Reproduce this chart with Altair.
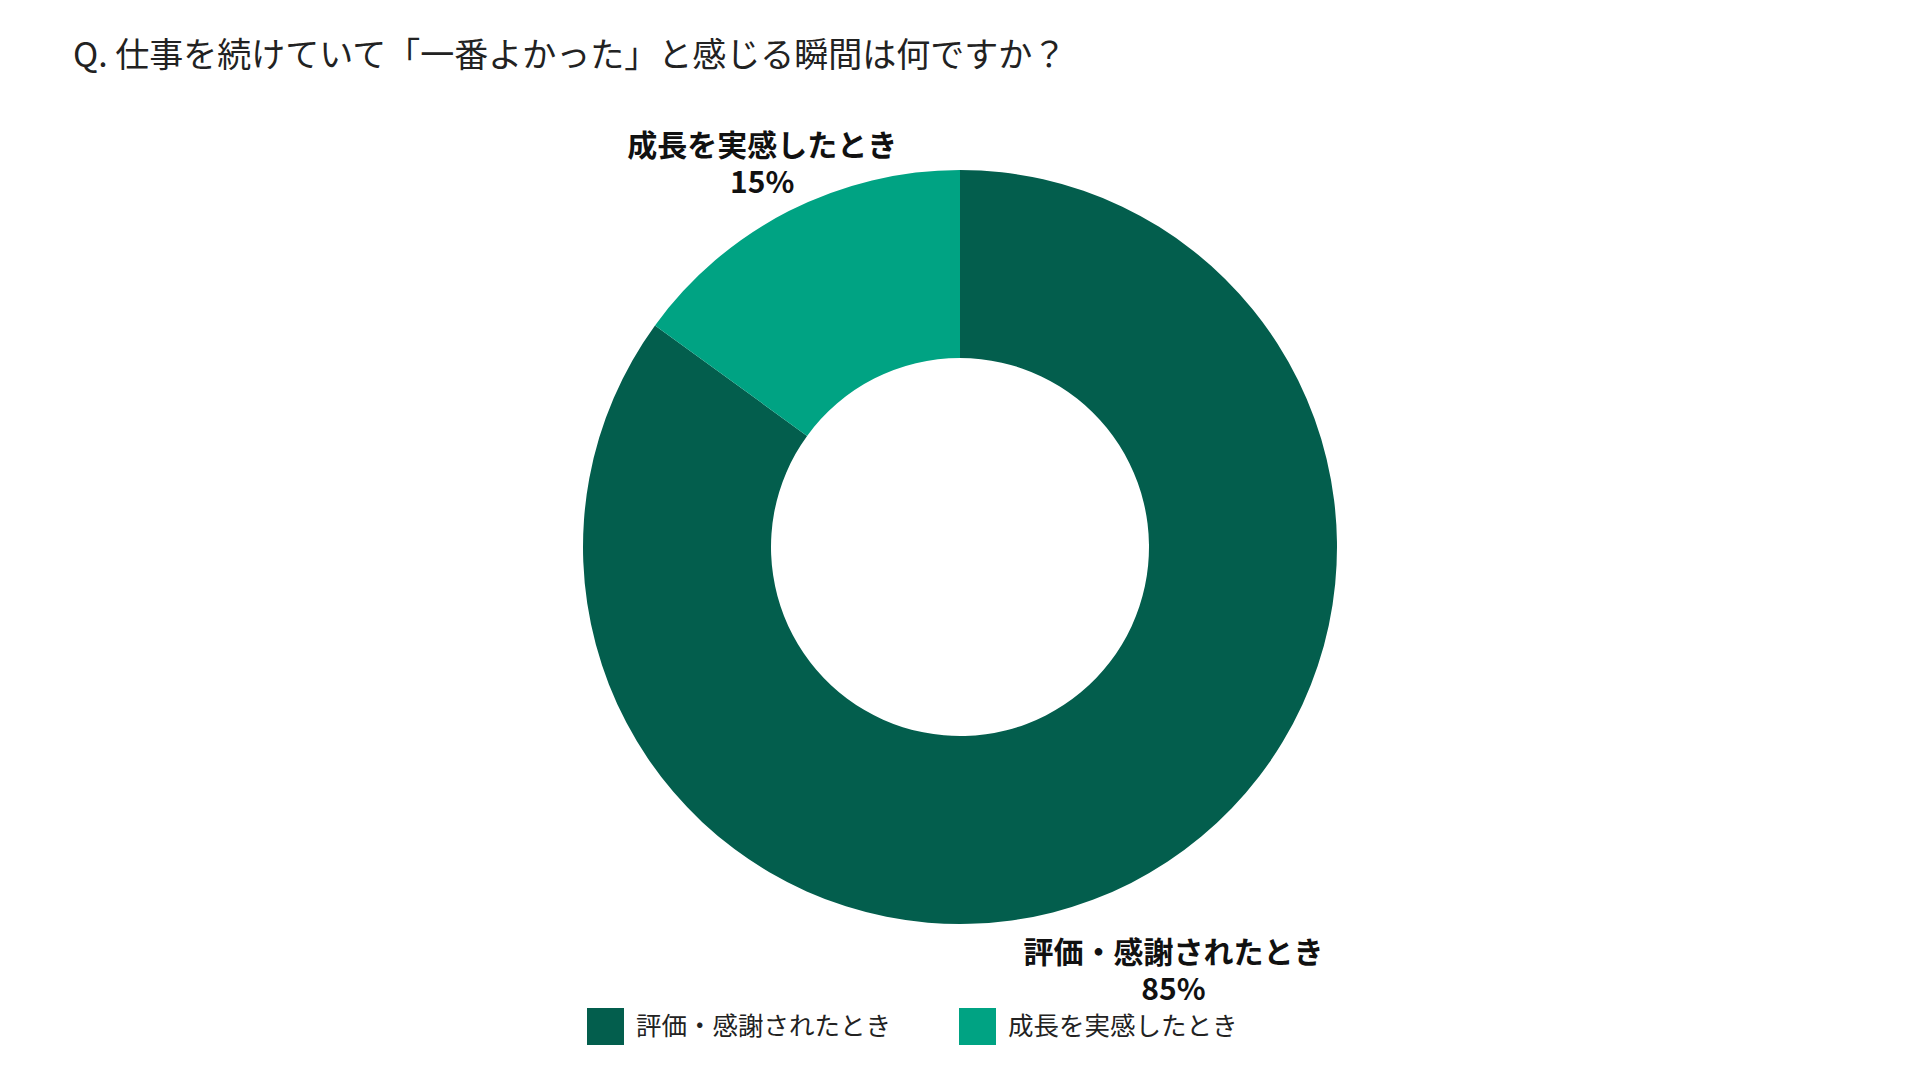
import altair as alt
import pandas as pd

categories = ["評価・感謝されたとき", "成長を実感したとき"]
values = [85, 15]
order_idx = [0, 1]
colors = ["#035E4D", "#00A383"]
title_text = "Q. 仕事を続けていて「一番よかった」と感じる瞬間は何ですか？"

df = pd.DataFrame({"category": categories, "value": values, "idx": order_idx})

FONT = "Noto Sans CJK JP"

arc = alt.Chart(df).mark_arc(innerRadius=189, outerRadius=377).encode(
    theta=alt.Theta("value:Q", stack=True),
    order=alt.Order("idx:Q"),
    color=alt.Color(
        "category:N",
        scale=alt.Scale(domain=categories, range=colors),
        legend=alt.Legend(
            title=None,
            orient="none",
            direction="horizontal",
            legendX=587,
            legendY=994,
            symbolType="square",
            symbolSize=1369,
            symbolStrokeWidth=0,
            labelFontSize=25.5,
            labelFont=FONT,
            labelColor="#222222",
            labelOffset=12,
            labelLimit=0,
            columnPadding=67,
            padding=0,
        ),
    ),
)

labels = alt.Chart(df).transform_window(
    cum="sum(value)", sort=[alt.SortField("idx", order="ascending")]
).transform_calculate(
    mid="datum.cum - datum.value / 2",
    label="datum.category + '\\n' + datum.value + '%'",
    r="datum.category == '成長を実感したとき' ? 449 : 457",
).mark_text(
    font=FONT,
    fontSize=30,
    fontWeight="bold",
    color="#111111",
    lineBreak="\n",
    lineHeight=37,
    align="center",
    baseline="middle",
    dx=6,
).encode(
    theta=alt.Theta("mid:Q", stack=None),
    text="label:N",
    radius=alt.Radius("r:Q", scale=None),
)

chart = alt.layer(arc, labels).properties(
    width=1920,
    height=1066,
    padding={"top": 14, "left": 0, "right": 0, "bottom": 0},
    autosize=alt.AutoSizeParams(type="none"),
    title=alt.Title(
        title_text,
        anchor="start",
        frame="group",
        dx=73,
        dy=64,
        fontSize=34,
        font=FONT,
        fontWeight="normal",
        color="#222222",
    ),
).configure_view(stroke=None).configure(font=FONT)

chart.save("out.html", embed_options={"renderer": "svg", "actions": False})
